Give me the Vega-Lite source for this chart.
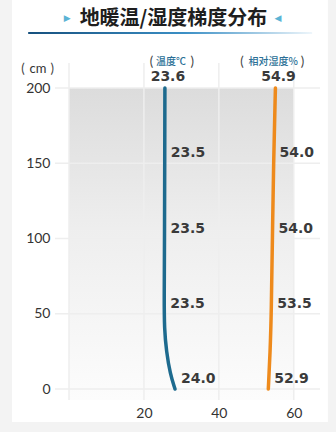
{
  "$schema": "https://vega.github.io/schema/vega-lite/v6.json",
  "width": 251,
  "height": 312,
  "autosize": "none",
  "padding": {"left": 69, "top": 88, "right": 16, "bottom": 32},
  "background": "#f3f3f3",
  "config": {"view": {"stroke": null}},
  "title": {
    "text": "地暖温/湿度梯度分布",
    "anchor": "middle",
    "frame": "group",
    "dx": -21,
    "offset": -39,
    "baseline": "middle",
    "font": "Noto Sans CJK SC",
    "fontSize": 20,
    "fontWeight": "bold",
    "color": "#1e1e1e"
  },
  "datasets": {
    "lines": [
      {"series": "温度", "height": 200, "x": 25.6},
      {"series": "温度", "height": 150, "x": 25.55},
      {"series": "温度", "height": 100, "x": 25.5},
      {"series": "温度", "height": 60, "x": 25.4},
      {"series": "温度", "height": 40, "x": 25.45},
      {"series": "温度", "height": 25, "x": 26.0},
      {"series": "温度", "height": 10, "x": 27.0},
      {"series": "温度", "height": 0, "x": 28.3},
      {"series": "相对湿度", "height": 200, "x": 55.1},
      {"series": "相对湿度", "height": 150, "x": 54.6},
      {"series": "相对湿度", "height": 100, "x": 54.3},
      {"series": "相对湿度", "height": 50, "x": 54.0},
      {"series": "相对湿度", "height": 25, "x": 53.7},
      {"series": "相对湿度", "height": 0, "x": 53.2}
    ],
    "labels": [
      {"series": "温度", "height": 200, "x": 25.6, "label": "23.6"},
      {"series": "温度", "height": 150, "x": 25.55, "label": "23.5"},
      {"series": "温度", "height": 100, "x": 25.5, "label": "23.5"},
      {"series": "温度", "height": 50, "x": 25.4, "label": "23.5"},
      {"series": "温度", "height": 0, "x": 28.3, "label": "24.0"},
      {"series": "相对湿度", "height": 200, "x": 55.1, "label": "54.9"},
      {"series": "相对湿度", "height": 150, "x": 54.6, "label": "54.0"},
      {"series": "相对湿度", "height": 100, "x": 54.3, "label": "54.0"},
      {"series": "相对湿度", "height": 50, "x": 54.0, "label": "53.5"},
      {"series": "相对湿度", "height": 0, "x": 53.2, "label": "52.9"}
    ],
    "headers": [
      {"label": "温度℃", "x": 27.2},
      {"label": "相对湿度%", "x": 54.5}
    ],
    "parens": [
      {"label": "(", "x": 22.0, "height": 217},
      {"label": ")", "x": 32.9, "height": 217},
      {"label": "(", "x": 46.2, "height": 217},
      {"label": ")", "x": 62.3, "height": 217},
      {"label": "(", "x": -12.3, "height": 212.5},
      {"label": ")", "x": -4.5, "height": 212.5}
    ],
    "hgrid": [{"height": 0}, {"height": 50}, {"height": 100}, {"height": 150}, {"height": 200}],
    "vgrid": [{"x": 0}, {"x": 20}, {"x": 40}, {"x": 60}],
    "triangles": [
      {"label": "▶", "x": -0.5},
      {"label": "◀", "x": 55.8}
    ]
  },
  "layer": [
    {
      "data": {"values": [{}]},
      "mark": {"type": "rect", "fill": "#ffffff"},
      "encoding": {
        "x": {"datum": -15.2, "type": "quantitative", "scale": {"domain": [0, 67], "nice": false, "zero": false},
          "axis": {"values": [20, 40, 60], "ticks": false, "domain": false, "grid": false, "title": null, "labelPadding": 6, "labelFont": "Lato", "labelFontSize": 14, "labelColor": "#333333", "zindex": 1}},
        "x2": {"datum": 69.1},
        "y": {"datum": 258.5, "type": "quantitative", "scale": {"domain": [-7.3, 200], "nice": false, "zero": false},
          "axis": {"values": [0, 50, 100, 150, 200], "ticks": false, "domain": false, "grid": false, "title": null, "labelPadding": 19, "labelFont": "Lato", "labelFontSize": 14, "labelColor": "#333333", "zindex": 1}},
        "y2": {"datum": -21.9}
      }
    },
    {
      "data": {"values": [{}]},
      "mark": {"type": "rect", "fill": {"gradient": "linear", "x1": 0, "y1": 0, "x2": 0, "y2": 1,
        "stops": [{"offset": 0, "color": "#dcdcdc"}, {"offset": 0.45, "color": "#eeeeee"}, {"offset": 1, "color": "#fcfcfc"}]}},
      "encoding": {
        "x": {"datum": 0, "type": "quantitative"},
        "x2": {"datum": 60},
        "y": {"datum": 200, "type": "quantitative"},
        "y2": {"datum": -7.3}
      }
    },
    {
      "data": {"name": "hgrid"},
      "mark": {"type": "rule", "color": "#eeeeee", "strokeWidth": 1.5},
      "encoding": {
        "y": {"field": "height", "type": "quantitative"},
        "x": {"datum": -3.74, "type": "quantitative"},
        "x2": {"datum": 67}
      }
    },
    {
      "data": {"name": "vgrid"},
      "mark": {"type": "rule", "color": "#eeeeee", "strokeWidth": 1.5},
      "encoding": {
        "x": {"field": "x", "type": "quantitative"},
        "y": {"datum": -7.3, "type": "quantitative"},
        "y2": {"datum": 216.6}
      }
    },
    {
      "data": {"name": "lines"},
      "mark": {"type": "line", "interpolate": "basis", "strokeWidth": 3.5, "strokeCap": "round"},
      "encoding": {
        "x": {"field": "x", "type": "quantitative"},
        "y": {"field": "height", "type": "quantitative"},
        "order": {"field": "height", "type": "quantitative"},
        "color": {"field": "series", "type": "nominal", "scale": {"domain": ["温度", "相对湿度"], "range": ["#1d6a8e", "#ee8a1c"]}, "legend": null}
      }
    },
    {
      "data": {"name": "labels"},
      "transform": [{"filter": "datum.height < 200"}],
      "mark": {"type": "text", "align": "left", "baseline": "middle", "dx": 6, "dy": -10, "font": "DejaVu Sans", "fontWeight": "bold", "fontSize": 14, "color": "#3a3a3a"},
      "encoding": {
        "x": {"field": "x", "type": "quantitative"},
        "y": {"field": "height", "type": "quantitative"},
        "text": {"field": "label"}
      }
    },
    {
      "data": {"name": "labels"},
      "transform": [{"filter": "datum.height == 200"}],
      "mark": {"type": "text", "align": "center", "baseline": "middle", "dx": 3, "dy": -11, "font": "DejaVu Sans", "fontWeight": "bold", "fontSize": 14, "color": "#3a3a3a"},
      "encoding": {
        "x": {"field": "x", "type": "quantitative"},
        "y": {"field": "height", "type": "quantitative"},
        "text": {"field": "label"}
      }
    },
    {
      "data": {"name": "headers"},
      "mark": {"type": "text", "align": "center", "baseline": "middle", "font": "Noto Sans CJK SC", "fontWeight": 500, "fontSize": 10, "color": "#2a6f96"},
      "encoding": {
        "x": {"field": "x", "type": "quantitative"},
        "y": {"datum": 217, "type": "quantitative"},
        "text": {"field": "label"}
      }
    },
    {
      "data": {"name": "parens"},
      "mark": {"type": "text", "align": "center", "baseline": "middle", "font": "Lato", "fontSize": 13, "color": "#444444"},
      "encoding": {
        "x": {"field": "x", "type": "quantitative"},
        "y": {"field": "height", "type": "quantitative"},
        "text": {"field": "label"}
      }
    },
    {
      "data": {"values": [{"label": "cm"}]},
      "mark": {"type": "text", "align": "center", "baseline": "middle", "font": "Lato", "fontSize": 13, "color": "#333333"},
      "encoding": {
        "x": {"datum": -8.3, "type": "quantitative"},
        "y": {"datum": 212.5, "type": "quantitative"},
        "text": {"field": "label"}
      }
    },
    {
      "data": {"name": "triangles"},
      "mark": {"type": "text", "align": "center", "baseline": "middle", "font": "DejaVu Sans", "fontSize": 9, "color": "#5bb3d5"},
      "encoding": {
        "x": {"field": "x", "type": "quantitative"},
        "y": {"datum": 246.5, "type": "quantitative"},
        "text": {"field": "label"}
      }
    },
    {
      "data": {"values": [{}]},
      "mark": {"type": "rect", "fill": {"gradient": "linear", "x1": 0, "y1": 0, "x2": 1, "y2": 0,
        "stops": [{"offset": 0, "color": "#16507e"}, {"offset": 0.55, "color": "#3b8fc5"}, {"offset": 1, "color": "#eef6fb"}]}},
      "encoding": {
        "x": {"datum": -10.9, "type": "quantitative"},
        "x2": {"datum": 64.9},
        "y": {"datum": 237.2, "type": "quantitative"},
        "y2": {"datum": 235.9}
      }
    }
  ]
}
